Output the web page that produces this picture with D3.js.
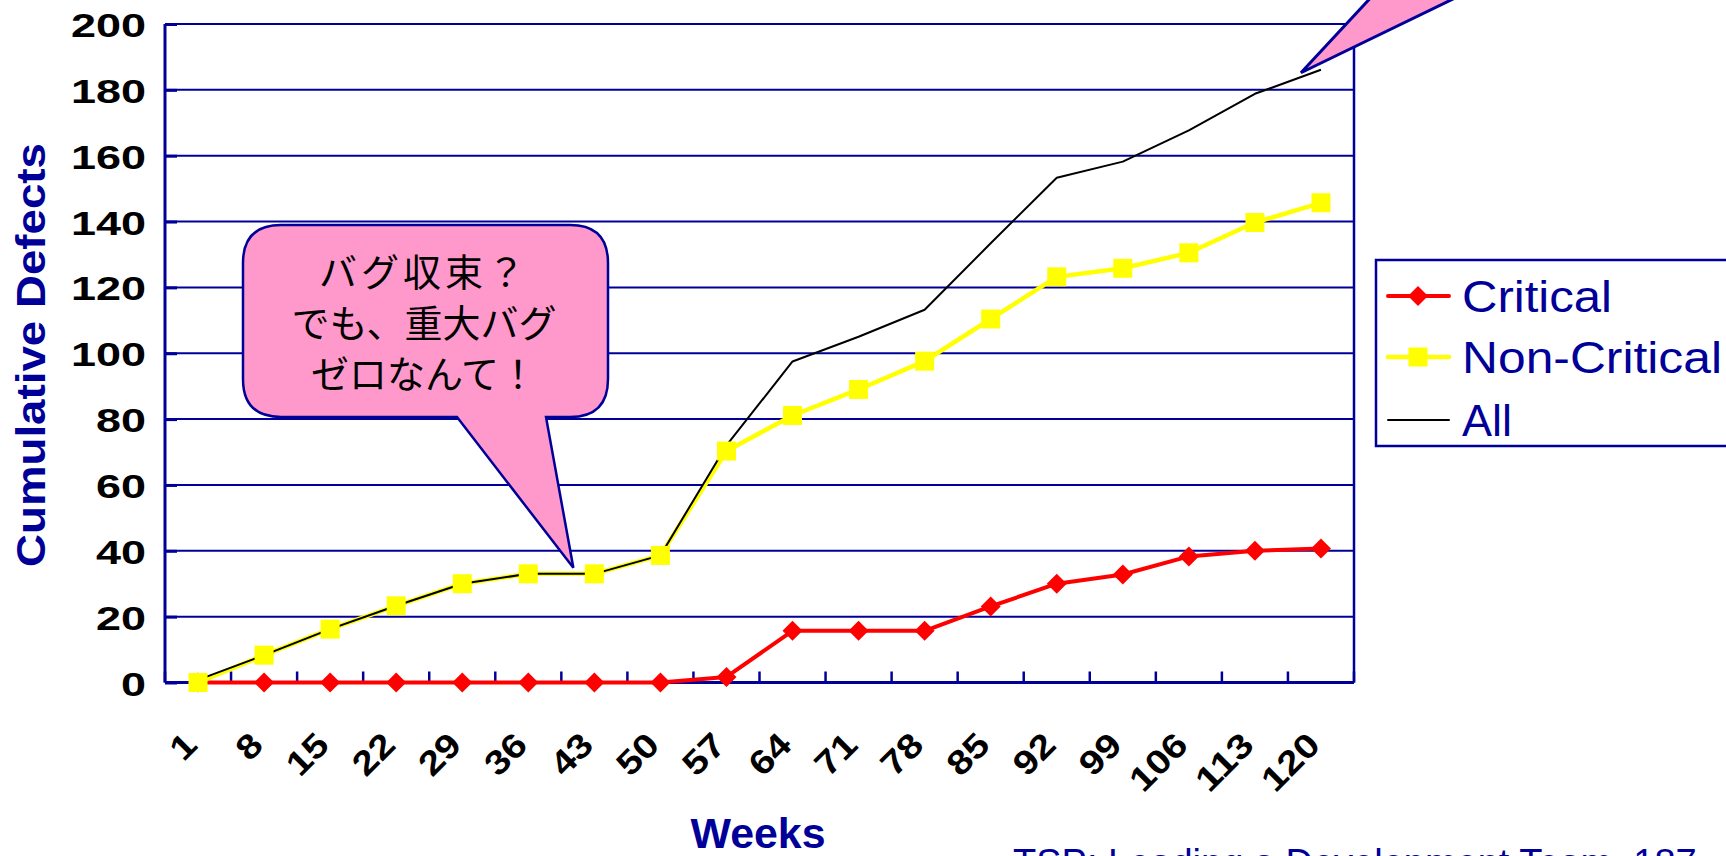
<!DOCTYPE html>
<html>
<head>
<meta charset="utf-8">
<script src="https://cdn.jsdelivr.net/npm/d3@7"></script>
<style>
  html, body { margin: 0; padding: 0; background: #fff; overflow: hidden; }
  svg { display: block; }
</style>
</head>
<body>
<svg id="chart" width="1726" height="856"></svg>
<script>
// Cumulative defects per week
const weeks = [1, 8, 15, 22, 29, 36, 43, 50, 57, 64, 71, 78, 85, 92, 99, 106, 113, 120];
const critical = [0, 0, 0, 0, 0, 0, 0, 0, 1.7, 15.7, 15.7, 15.7, 23.1, 30, 32.8, 38.3, 40, 40.7];
const nonCritical = [0, 8.3, 16.2, 23.3, 30, 33, 33, 38.6, 70.3, 81.1, 89, 97.6, 110.4, 123.2, 125.8, 130.5, 139.7, 145.7];
const allDefects = [0.8, 8.3, 16.2, 23.3, 30, 33, 33, 38.6, 72, 97.5, 105, 113.2, 133.4, 153.3, 158.2, 167.7, 178.8, 186.1];
const yTicks = [0, 20, 40, 60, 80, 100, 120, 140, 160, 180, 200];
const seriesNames = ["Critical", "Non-Critical", "All"];
const bubbleLines = ["バグ収束？", "でも、重大バグ", "ゼロなんて！"];

const BLUE = "#000099";
const PINK = "#FF99CC";

const svg = d3.select("#chart");
svg.append("rect").attr("width", 1726).attr("height", 856).attr("fill", "#fff");

const plot = { left: 165, right: 1354, top: 24, bottom: 682.5 };

const x = d3.scaleBand().domain(weeks).range([plot.left, plot.right]).padding(0);
const y = d3.scaleLinear().domain([0, 200]).range([plot.bottom, plot.top]);
const cx = w => x(w) + x.bandwidth() / 2;

// Horizontal gridlines
svg.append("g").selectAll("line").data(yTicks.filter(d => d > 0)).join("line")
  .attr("x1", plot.left).attr("x2", plot.right)
  .attr("y1", d => y(d)).attr("y2", d => y(d))
  .attr("stroke", BLUE).attr("stroke-width", 2);

// Right border
svg.append("line").attr("x1", plot.right).attr("x2", plot.right)
  .attr("y1", plot.top).attr("y2", plot.bottom)
  .attr("stroke", BLUE).attr("stroke-width", 2.5);

// Y axis with inward ticks
const yAxis = d3.axisRight(y).tickValues(yTicks).tickSize(12).tickFormat("");
const gy = svg.append("g").attr("transform", `translate(${plot.left},0)`).call(yAxis);
gy.select(".domain").remove();
gy.selectAll(".tick line").attr("stroke", BLUE).attr("stroke-width", 3);
svg.append("line").attr("x1", plot.left).attr("x2", plot.left)
  .attr("y1", plot.top).attr("y2", plot.bottom)
  .attr("stroke", BLUE).attr("stroke-width", 3);

// Y tick labels
svg.append("g").selectAll("text").data(yTicks).join("text")
  .attr("x", 146).attr("y", d => y(d) + 13)
  .attr("text-anchor", "end")
  .attr("font-family", "Liberation Sans, Arial, sans-serif")
  .attr("font-weight", "bold").attr("font-size", 34)
  .attr("textLength", d => String(d).length * 25)
  .attr("lengthAdjust", "spacingAndGlyphs")
  .attr("fill", "#000")
  .text(d => d);

// X axis: tick marks at category boundaries, pointing up
const boundaries = weeks.map(w => x(w)).concat([plot.right]);
svg.append("g").selectAll("line").data(boundaries).join("line")
  .attr("x1", d => d).attr("x2", d => d)
  .attr("y1", plot.bottom).attr("y2", plot.bottom - 11)
  .attr("stroke", BLUE).attr("stroke-width", 2.5);
svg.append("line").attr("x1", plot.left).attr("x2", plot.right)
  .attr("y1", plot.bottom).attr("y2", plot.bottom)
  .attr("stroke", BLUE).attr("stroke-width", 3);

// X tick labels, rotated
svg.append("g").selectAll("text").data(weeks).join("text")
  .attr("transform", w => `translate(${cx(w) + 1},${747}) rotate(-45)`)
  .attr("text-anchor", "end")
  .attr("font-family", "Liberation Sans, Arial, sans-serif")
  .attr("font-weight", "bold").attr("font-size", 34)
  .attr("textLength", w => String(w).length * 22)
  .attr("lengthAdjust", "spacingAndGlyphs")
  .attr("fill", "#000")
  .text(w => w);

// Axis titles
svg.append("text")
  .attr("transform", `translate(45,355) rotate(-90)`)
  .attr("text-anchor", "middle")
  .attr("font-family", "Liberation Sans, Arial, sans-serif")
  .attr("font-weight", "bold").attr("font-size", 40)
  .attr("textLength", 424).attr("lengthAdjust", "spacingAndGlyphs")
  .attr("fill", BLUE)
  .text("Cumulative Defects");

svg.append("text")
  .attr("x", 758).attr("y", 848)
  .attr("text-anchor", "middle")
  .attr("font-family", "Liberation Sans, Arial, sans-serif")
  .attr("font-weight", "bold").attr("font-size", 42)
  .attr("textLength", 135).attr("lengthAdjust", "spacingAndGlyphs")
  .attr("fill", BLUE)
  .text("Weeks");

// Source line (runs past the lower edge of the frame)
svg.append("text")
  .attr("x", 1013).attr("y", 876)
  .attr("font-family", "Liberation Sans, Arial, sans-serif")
  .attr("font-size", 38)
  .attr("fill", BLUE)
  .text("TSP: Leading a Development Team, 187");

// Lines
const line = vals => d3.line().x((d, i) => cx(weeks[i])).y(d => y(d))(vals);
svg.append("path").attr("d", line(critical)).attr("fill", "none")
  .attr("stroke", "#FF0000").attr("stroke-width", 4).attr("stroke-linejoin", "round");
svg.append("path").attr("d", line(nonCritical)).attr("fill", "none")
  .attr("stroke", "#FFFF00").attr("stroke-width", 4.5).attr("stroke-linejoin", "round");
svg.append("path").attr("d", line(allDefects)).attr("fill", "none")
  .attr("stroke", "#000").attr("stroke-width", 2).attr("stroke-linejoin", "round");

// Markers
svg.append("g").selectAll("path").data(critical).join("path")
  .attr("transform", (d, i) => `translate(${cx(weeks[i])},${y(d)}) rotate(45)`)
  .attr("d", d3.symbol().type(d3.symbolSquare).size(200))
  .attr("fill", "#FF0000");
svg.append("g").selectAll("rect").data(nonCritical).join("rect")
  .attr("x", (d, i) => cx(weeks[i]) - 9.5).attr("y", d => y(d) - 9.5)
  .attr("width", 19).attr("height", 19)
  .attr("fill", "#FFFF00");

// Legend
const lg = svg.append("g");
lg.append("rect").attr("x", 1376).attr("y", 260).attr("width", 400).attr("height", 186)
  .attr("fill", "#fff").attr("stroke", BLUE).attr("stroke-width", 2.5);
const legendRows = [
  { name: seriesNames[0], color: "#FF0000", w: 4, marker: "diamond", y: 296, len: 150 },
  { name: seriesNames[1], color: "#FFFF00", w: 4.5, marker: "square", y: 357, len: 260 },
  { name: seriesNames[2], color: "#000", w: 2, marker: null, y: 420, len: 50 }
];
legendRows.forEach(r => {
  lg.append("line").attr("x1", 1388).attr("x2", 1449).attr("y1", r.y).attr("y2", r.y)
    .attr("stroke", r.color).attr("stroke-width", r.w).attr("stroke-linecap", "round");
  if (r.marker === "diamond") {
    lg.append("path").attr("transform", `translate(1418,${r.y}) rotate(45)`)
      .attr("d", d3.symbol().type(d3.symbolSquare).size(200)).attr("fill", r.color);
  } else if (r.marker === "square") {
    lg.append("rect").attr("x", 1418 - 9.5).attr("y", r.y - 9.5)
      .attr("width", 19).attr("height", 19).attr("fill", r.color);
  }
  lg.append("text").attr("x", 1462).attr("y", r.y + 16)
    .attr("font-family", "Liberation Sans, Arial, sans-serif")
    .attr("font-size", 44)
    .attr("textLength", r.len).attr("lengthAdjust", "spacingAndGlyphs")
    .attr("fill", BLUE)
    .text(r.name);
});

// Speech bubble pointing at the flat stretch
const tip = [cx(43) - 21, y(nonCritical[6]) - 6];
const bx0 = 243, bx1 = 608, by0 = 225, by1 = 417, r = 38;
const bubble = d3.path();
bubble.moveTo(bx0 + r, by0);
bubble.lineTo(bx1 - r, by0);
bubble.quadraticCurveTo(bx1, by0, bx1, by0 + r);
bubble.lineTo(bx1, by1 - r);
bubble.quadraticCurveTo(bx1, by1, bx1 - r, by1);
bubble.lineTo(546, by1);
bubble.lineTo(tip[0], tip[1]);
bubble.lineTo(457, by1);
bubble.lineTo(bx0 + r, by1);
bubble.quadraticCurveTo(bx0, by1, bx0, by1 - r);
bubble.lineTo(bx0, by0 + r);
bubble.quadraticCurveTo(bx0, by0, bx0 + r, by0);
bubble.closePath();
svg.append("path").attr("d", bubble.toString())
  .attr("fill", PINK).attr("stroke", BLUE).attr("stroke-width", 2.5)
  .attr("stroke-linejoin", "miter");

svg.append("g").selectAll("text").data(bubbleLines).join("text")
  .attr("x", 424).attr("y", (d, i) => 286 + i * 51)
  .attr("text-anchor", "middle")
  .attr("font-family", "Noto Sans CJK JP, sans-serif")
  .attr("font-size", 38)
  .attr("letter-spacing", (d, i) => i === 0 ? 4 : 0)
  .attr("fill", "#000")
  .text(d => d);

// Second callout tail, from beyond the top edge to the last total
const tip2 = [cx(120) - 20, y(allDefects[17]) + 3];
svg.append("path")
  .attr("d", d3.line()([tip2, [1415, -50], [1554, -50]]) + "Z")
  .attr("fill", PINK).attr("stroke", BLUE).attr("stroke-width", 3)
  .attr("stroke-linejoin", "miter");
</script>
</body>
</html>
